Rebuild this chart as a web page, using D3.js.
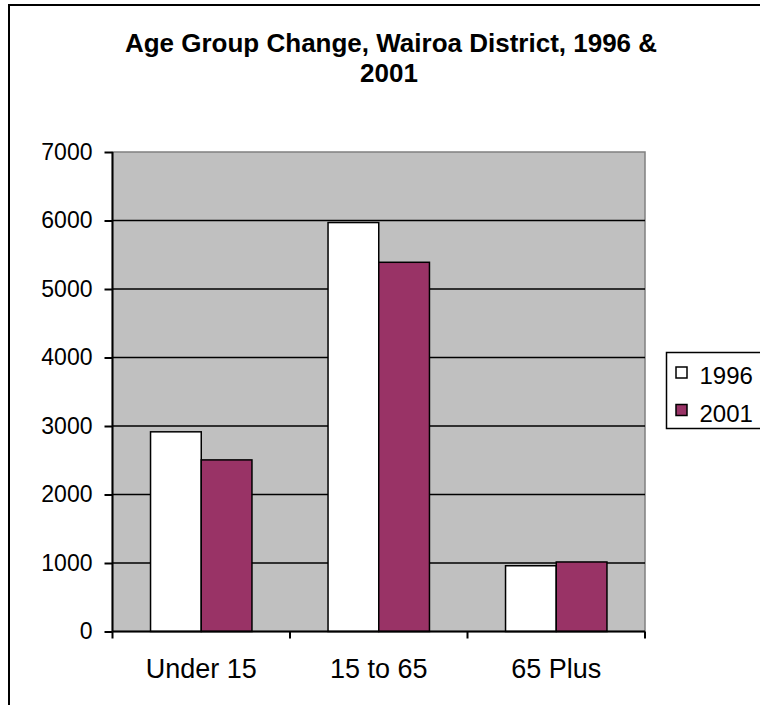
<!DOCTYPE html>
<html>
<head>
<meta charset="utf-8">
<script src="https://cdn.jsdelivr.net/npm/d3@7"></script>
<style>
  body { margin: 0; background: #fff; }
  svg { display: block; font-family: Arial, "Liberation Sans", sans-serif; }
</style>
</head>
<body>
<script>
var categories = ["Under 15", "15 to 65", "65 Plus"];
var seriesNames = ["1996", "2001"];
var values1996 = [2915, 5970, 960];
var values2001 = [2505, 5390, 1015];
var yTicks = [0, 1000, 2000, 3000, 4000, 5000, 6000, 7000];
var seriesColors = ["#ffffff", "#993366"];

var width = 760, height = 705;
var plot = { left: 112.5, right: 645, top: 152, bottom: 631.5 };

var svg = d3.select("body").append("svg")
	.attr("width", width)
	.attr("height", height);

// chart frame
svg.append("rect")
	.attr("x", 9).attr("y", 5)
	.attr("width", 800).attr("height", 760)
	.attr("fill", "#fff")
	.attr("stroke", "#000")
	.attr("stroke-width", 2);

// title
var title = svg.append("text")
	.attr("text-anchor", "middle")
	.style("font-weight", "bold")
	.style("font-size", "26px")
	.attr("fill", "#000");
title.append("tspan").attr("x", 391).attr("y", 52).text("Age Group Change, Wairoa District, 1996 &");
title.append("tspan").attr("x", 389).attr("y", 82).text("2001");

var y = d3.scaleLinear()
	.domain([0, 7000])
	.range([plot.bottom, plot.top]);

var x0 = d3.scaleBand()
	.domain(categories)
	.range([plot.left, plot.right]);

var x1 = d3.scaleBand()
	.domain(seriesNames)
	.range([0, x0.bandwidth()])
	.paddingInner(0)
	.paddingOuter(0.75);

// plot area
svg.append("rect")
	.attr("x", plot.left).attr("y", plot.top)
	.attr("width", plot.right - plot.left)
	.attr("height", plot.bottom - plot.top)
	.attr("fill", "#c0c0c0")
	.attr("stroke", "#808080")
	.attr("stroke-width", 1.5);

// gridlines
svg.append("g")
	.selectAll("line")
	.data(yTicks.filter(function(d) { return d > 0 && d < 7000; }))
	.enter().append("line")
	.attr("x1", plot.left).attr("x2", plot.right)
	.attr("y1", function(d) { return y(d); })
	.attr("y2", function(d) { return y(d); })
	.attr("stroke", "#000")
	.attr("stroke-width", 1.5);

// bars
var data = categories.map(function(c, i) {
	return { cat: c, vals: [values1996[i], values2001[i]] };
});

var groups = svg.append("g").selectAll("g")
	.data(data)
	.enter().append("g")
	.attr("transform", function(d) { return "translate(" + x0(d.cat) + ",0)"; });

groups.selectAll("rect")
	.data(function(d) {
		return d.vals.map(function(v, j) { return { key: seriesNames[j], value: v, j: j }; });
	})
	.enter().append("rect")
	.attr("x", function(d) { return x1(d.key); })
	.attr("width", x1.bandwidth())
	.attr("y", function(d) { return y(d.value); })
	.attr("height", function(d) { return y(0) - y(d.value); })
	.attr("fill", function(d) { return seriesColors[d.j]; })
	.attr("stroke", "#000")
	.attr("stroke-width", 1.5);

// y axis
var yAxis = d3.axisLeft(y)
	.tickValues(yTicks)
	.tickSize(8)
	.tickPadding(12)
	.tickFormat(d3.format("d"));

var gy = svg.append("g")
	.attr("transform", "translate(" + plot.left + ",0)")
	.call(yAxis);
gy.select(".domain").remove();
gy.selectAll(".tick line").attr("stroke", "#000").attr("stroke-width", 2);
gy.selectAll(".tick text")
	.attr("fill", "#000")
	.style("font-size", "23px")
	.style("font-family", "Arial, 'Liberation Sans', sans-serif");

// x axis labels
var xAxis = d3.axisBottom(x0)
	.tickSize(0)
	.tickPadding(27);

var gx = svg.append("g")
	.attr("transform", "translate(0," + plot.bottom + ")")
	.call(xAxis);
gx.select(".domain").remove();
gx.selectAll(".tick text")
	.attr("fill", "#000")
	.style("font-size", "27px")
	.style("font-family", "Arial, 'Liberation Sans', sans-serif");

// category boundary ticks
var bounds = categories.map(function(c) { return x0(c); }).concat([plot.right]);
svg.append("g").selectAll("line")
	.data(bounds)
	.enter().append("line")
	.attr("x1", function(d) { return d; })
	.attr("x2", function(d) { return d; })
	.attr("y1", plot.bottom)
	.attr("y2", plot.bottom + 7)
	.attr("stroke", "#000")
	.attr("stroke-width", 2);

// axis lines
svg.append("line")
	.attr("x1", plot.left).attr("x2", plot.left)
	.attr("y1", plot.top).attr("y2", plot.bottom)
	.attr("stroke", "#000").attr("stroke-width", 2);
svg.append("line")
	.attr("x1", plot.left).attr("x2", plot.right)
	.attr("y1", plot.bottom).attr("y2", plot.bottom)
	.attr("stroke", "#000").attr("stroke-width", 2);

// legend
var legend = svg.append("g").attr("transform", "translate(666.5,352.5)");
legend.append("rect")
	.attr("width", 120).attr("height", 76)
	.attr("fill", "#fff")
	.attr("stroke", "#000")
	.attr("stroke-width", 1.5);

var items = legend.selectAll(".item")
	.data(seriesNames)
	.enter().append("g")
	.attr("class", "item")
	.attr("transform", function(d, i) { return "translate(0," + (i * 37.5) + ")"; });

items.append("rect")
	.attr("x", 9.5).attr("y", 14.5)
	.attr("width", 11).attr("height", 11)
	.attr("fill", function(d, i) { return seriesColors[i]; })
	.attr("stroke", "#000")
	.attr("stroke-width", 1.5);

items.append("text")
	.attr("x", 33).attr("y", 31.5)
	.attr("fill", "#000")
	.style("font-size", "24px")
	.text(function(d) { return d; });
</script>
</body>
</html>
